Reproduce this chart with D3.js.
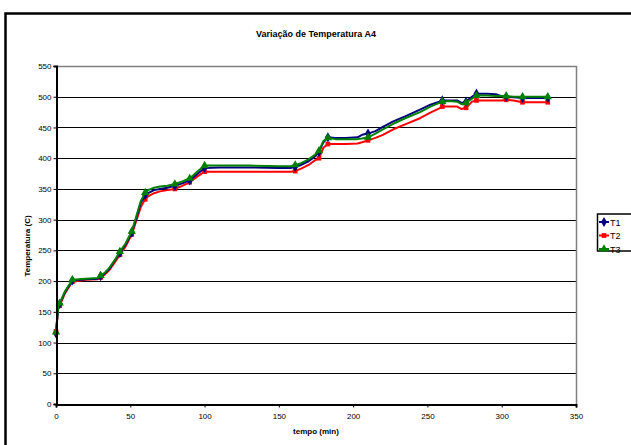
<!DOCTYPE html>
<html>
<head>
<meta charset="utf-8">
<script src="https://cdnjs.cloudflare.com/ajax/libs/d3/7.8.5/d3.min.js"></script>
<style>
    body { margin: 0; background: #fff; }
    svg { display: block; }
</style>
</head>
<body>
<svg id="chart"></svg>
<script>
// tempo (min)
var times = [0, 1.5, 2.5, 6, 11, 20, 28, 30, 33, 36, 40, 43, 47, 51, 54, 57, 60, 62, 66, 70,
    75, 80, 85, 90, 95, 100, 110, 130, 150, 158, 161, 165, 170, 174, 177, 180, 183, 188, 195, 203,
    206, 210, 215, 220, 227, 235, 245, 252, 258, 260, 265, 270, 273, 276, 280, 283, 290, 296, 300, 303,
    308, 314, 320, 331];
var t1 = [115, 158, 163, 182, 201, 203, 204, 208, 213, 220, 235, 246, 260, 279, 302, 327, 340, 343, 348, 350,
    352, 355, 359, 364, 374, 384, 385, 385, 384, 384, 386, 389, 395, 402, 410, 426, 434, 433, 433, 434,
    438, 440, 444, 451, 460, 468, 479, 487, 492, 494, 494, 494, 490, 492, 500, 505, 505, 504, 501, 500,
    499, 498, 498, 498];
var t2 = [118, 155, 160, 180, 199, 202, 203, 206, 211, 218, 232, 243, 257, 276, 298, 320, 333, 338, 343, 346,
    348, 350, 355, 361, 370, 378, 378, 378, 378, 378, 379, 383, 389, 396, 400, 417, 423, 423, 423, 424,
    426, 429, 433, 438, 447, 455, 465, 474, 481, 484, 484, 484, 480, 482, 492, 494, 494, 494, 494, 495,
    494, 491, 491, 491];
var t3 = [117, 159, 164, 183, 202, 204, 205, 209, 214, 222, 236, 248, 262, 281, 305, 330, 344, 348, 352, 354,
    355, 358, 362, 367, 378, 388, 388, 388, 387, 387, 389, 392, 398, 405, 412, 428, 433, 431, 431, 431,
    432, 434, 440, 447, 456, 465, 475, 484, 490, 492, 493, 492, 488, 490, 497, 502, 502, 501, 501, 501,
    500, 500, 500, 500];
// points that carry a marker
var markerTimes = [0, 2.5, 11, 30, 43, 51, 60, 80, 90, 100, 161, 177, 183, 210, 260, 276, 283, 303, 314, 331];
var seriesNames = ["T1", "T2", "T3"];
var xTicks = [0, 50, 100, 150, 200, 250, 300, 350];
var yTicks = [0, 50, 100, 150, 200, 250, 300, 350, 400, 450, 500, 550];

var params = {
    width: 631,
    height: 445,
    left: 56,
    right: 576,
    top: 66,
    bottom: 404,
    colors: ["#000080", "#ff0000", "#008000"],
    symbols: [d3.symbolDiamond, d3.symbolSquare, d3.symbolTriangle],
    symbolSizes: [30, 22, 30],
    font: "'Liberation Sans', Arial, sans-serif"
};

var chart = {
    svg: null,
    x: null,
    y: null,
    setup: function() {
        this.svg = d3.select("#chart")
            .attr("width", params.width)
            .attr("height", params.height);
        this.x = d3.scaleLinear().domain([0, 350]).range([params.left, params.right]);
        this.y = d3.scaleLinear().domain([0, 550]).range([params.bottom, params.top]);
    },
    drawFrame: function() {
        this.svg.append("rect")
            .attr("x", 0).attr("y", 0)
            .attr("width", params.width).attr("height", params.height)
            .attr("fill", "#fff");
        // outer chart border, runs off the right and bottom edges
        this.svg.append("rect")
            .attr("x", 5.5).attr("y", 13.5)
            .attr("width", 700).attr("height", 500)
            .attr("fill", "none")
            .attr("stroke", "#000")
            .attr("stroke-width", 2.5);
        this.svg.append("text")
            .attr("x", 316).attr("y", 37)
            .attr("text-anchor", "middle")
            .attr("font-family", params.font)
            .attr("font-size", 9)
            .attr("font-weight", "bold")
            .text("Variação de Temperatura A4");
    },
    drawGrid: function() {
        var me = this;
        var g = this.svg.append("g");
        g.selectAll("line").data(yTicks.filter(function(d) { return d > 0 && d < 550; }))
            .enter().append("line")
            .attr("x1", params.left).attr("x2", params.right)
            .attr("y1", function(d) { return Math.round(me.y(d)) + 0.5; })
            .attr("y2", function(d) { return Math.round(me.y(d)) + 0.5; })
            .attr("stroke", "#000")
            .attr("stroke-width", 1);
        // plot area border (top + right) in grey
        g.append("path")
            .attr("d", "M" + params.left + "," + (params.top + 0.5) + "H" + (params.right + 0.5) + "V" + params.bottom)
            .attr("fill", "none")
            .attr("stroke", "#808080")
            .attr("stroke-width", 1.5);
    },
    drawAxes: function() {
        var me = this;
        var xAxis = this.svg.append("g")
            .attr("transform", "translate(0," + (params.bottom + 0.5) + ")")
            .call(d3.axisBottom(this.x).tickValues(xTicks).tickSize(3).tickPadding(6));
        var yAxis = this.svg.append("g")
            .attr("transform", "translate(" + (params.left + 0.5) + ",0)")
            .call(d3.axisLeft(this.y).tickValues(yTicks).tickSize(3).tickPadding(2));
        [xAxis, yAxis].forEach(function(a) {
            a.select(".domain").attr("stroke", "#000").attr("stroke-width", 2);
            a.selectAll(".tick line").attr("stroke", "#000").attr("stroke-width", 1);
            a.selectAll("text")
                .attr("fill", "#000")
                .attr("font-family", params.font)
                .attr("font-size", 8);
        });
        this.svg.append("text")
            .attr("x", 316).attr("y", 434)
            .attr("text-anchor", "middle")
            .attr("font-family", params.font)
            .attr("font-size", 8)
            .attr("font-weight", "bold")
            .text("tempo (min)");
        this.svg.append("text")
            .attr("transform", "translate(30,246) rotate(-90)")
            .attr("text-anchor", "middle")
            .attr("font-family", params.font)
            .attr("font-size", 8)
            .attr("font-weight", "bold")
            .text("Temperatura (C)");
    },
    drawSeries: function() {
        var me = this;
        var all = [t1, t2, t3];
        var line = d3.line()
            .x(function(d) { return me.x(d[0]); })
            .y(function(d) { return me.y(d[1]); });
        // draw red first, then blue, then green on top
        [1, 0, 2].forEach(function(i) {
            var pts = times.map(function(t, k) { return [t, all[i][k]]; });
            var g = me.svg.append("g");
            g.append("path")
                .attr("d", line(pts))
                .attr("fill", "none")
                .attr("stroke", params.colors[i])
                .attr("stroke-width", 2)
                .attr("stroke-linejoin", "round");
            g.selectAll("path.mk")
                .data(pts.filter(function(d) { return markerTimes.indexOf(d[0]) >= 0; }))
                .enter().append("path")
                .attr("class", "mk")
                .attr("d", d3.symbol().type(params.symbols[i]).size(params.symbolSizes[i]))
                .attr("transform", function(d) { return "translate(" + me.x(d[0]) + "," + me.y(d[1]) + ")"; })
                .attr("fill", params.colors[i]);
        });
    },
    drawLegend: function() {
        var g = this.svg.append("g");
        g.append("rect")
            .attr("x", 597.5).attr("y", 214)
            .attr("width", 60).attr("height", 37)
            .attr("fill", "#fff")
            .attr("stroke", "#000")
            .attr("stroke-width", 1.5);
        seriesNames.forEach(function(name, i) {
            var cy = 222 + i * 13.5;
            g.append("line")
                .attr("x1", 599).attr("x2", 609)
                .attr("y1", cy).attr("y2", cy)
                .attr("stroke", params.colors[i])
                .attr("stroke-width", 2);
            g.append("path")
                .attr("d", d3.symbol().type(params.symbols[i]).size(params.symbolSizes[i]))
                .attr("transform", "translate(604," + cy + ")")
                .attr("fill", params.colors[i]);
            g.append("text")
                .attr("x", 610).attr("y", cy + 3.5)
                .attr("font-family", params.font)
                .attr("font-size", 9)
                .text(name);
        });
    },
    run: function() {
        this.setup();
        this.drawFrame();
        this.drawGrid();
        this.drawSeries();
        this.drawAxes();
        this.drawLegend();
    }
};

chart.run();
</script>
</body>
</html>
